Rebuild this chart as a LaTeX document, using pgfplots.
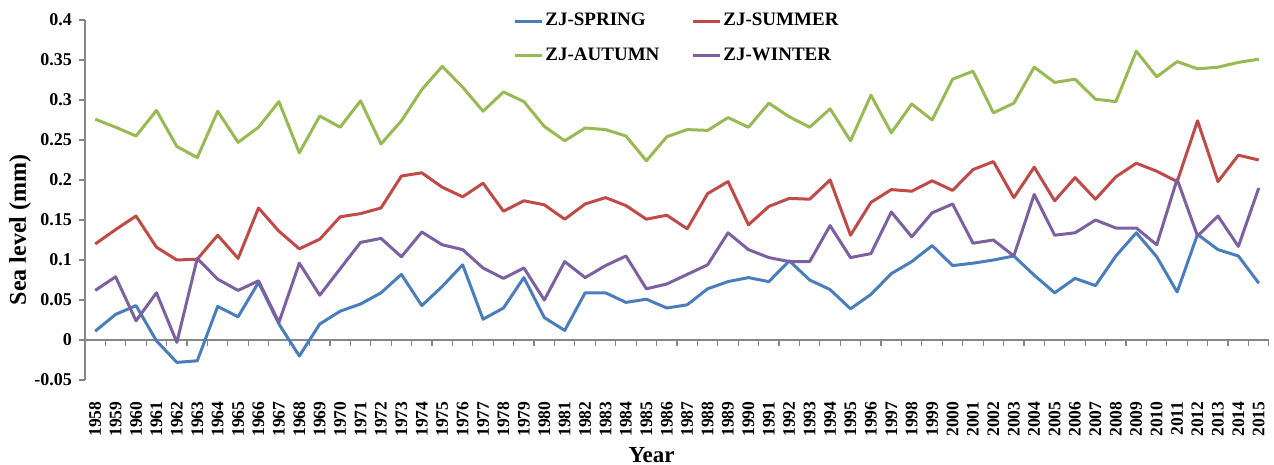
\documentclass[border=0pt]{standalone}
\usepackage{fontspec}
\setmainfont{Liberation Serif}
\usepackage{pgfplots}
\pgfplotsset{compat=1.18}
\usepackage{pgfplotstable}
\definecolor{cspring}{HTML}{4A7EBB}
\definecolor{csummer}{HTML}{BE4B48}
\definecolor{cautumn}{HTML}{98B954}
\definecolor{cwinter}{HTML}{7D60A0}
\definecolor{axisgray}{HTML}{868686}
\pgfplotstableread{
year spring summer autumn winter
1958 0.011 0.120 0.276 0.062
1959 0.032 0.138 0.266 0.079
1960 0.043 0.155 0.255 0.024
1961 -0.001 0.116 0.287 0.059
1962 -0.028 0.100 0.242 -0.003
1963 -0.026 0.101 0.228 0.102
1964 0.042 0.131 0.286 0.076
1965 0.029 0.102 0.247 0.062
1966 0.072 0.165 0.266 0.074
1967 0.020 0.136 0.298 0.022
1968 -0.020 0.114 0.234 0.096
1969 0.020 0.126 0.280 0.056
1970 0.036 0.154 0.266 0.089
1971 0.045 0.158 0.299 0.122
1972 0.059 0.165 0.245 0.127
1973 0.082 0.205 0.274 0.104
1974 0.043 0.209 0.313 0.135
1975 0.067 0.191 0.342 0.119
1976 0.094 0.179 0.316 0.113
1977 0.026 0.196 0.286 0.090
1978 0.040 0.161 0.310 0.077
1979 0.078 0.174 0.298 0.090
1980 0.028 0.169 0.267 0.050
1981 0.012 0.151 0.249 0.098
1982 0.059 0.170 0.265 0.078
1983 0.059 0.178 0.263 0.093
1984 0.047 0.168 0.255 0.105
1985 0.051 0.151 0.224 0.064
1986 0.040 0.156 0.254 0.070
1987 0.044 0.139 0.263 0.082
1988 0.064 0.183 0.262 0.094
1989 0.073 0.198 0.278 0.134
1990 0.078 0.144 0.266 0.113
1991 0.073 0.167 0.296 0.103
1992 0.099 0.177 0.279 0.098
1993 0.075 0.176 0.266 0.098
1994 0.063 0.200 0.289 0.143
1995 0.039 0.131 0.249 0.103
1996 0.057 0.172 0.306 0.108
1997 0.083 0.188 0.259 0.160
1998 0.098 0.186 0.295 0.129
1999 0.118 0.199 0.275 0.159
2000 0.093 0.187 0.326 0.170
2001 0.096 0.213 0.336 0.121
2002 0.100 0.223 0.284 0.125
2003 0.105 0.178 0.296 0.105
2004 0.081 0.216 0.341 0.182
2005 0.059 0.174 0.322 0.131
2006 0.077 0.203 0.326 0.134
2007 0.068 0.176 0.301 0.150
2008 0.105 0.204 0.298 0.140
2009 0.134 0.221 0.361 0.140
2010 0.104 0.211 0.329 0.119
2011 0.060 0.198 0.348 0.201
2012 0.132 0.274 0.339 0.130
2013 0.113 0.198 0.341 0.155
2014 0.105 0.231 0.347 0.117
2015 0.071 0.225 0.351 0.190
}\sea
\begin{document}
\begin{tikzpicture}
\useasboundingbox (-42.5pt,-42.5pt) rectangle (594.5pt,190pt);
% overlay axis: zero line with category tick marks
\begin{axis}[
  at={(0,0)}, anchor=south west,
  width=592pt, height=180pt, scale only axis,
  xmin=1957.5, xmax=2015.5, ymin=-0.05, ymax=0.4,
  axis x line=middle, axis y line=none,
  axis line style={-, draw=axisgray, line width=0.6pt},
  xtick={1958.5,1959.5,...,2015.5}, xticklabels={},
  ytick=\empty,
  tick align=outside, major tick length=3pt,
  x tick style={draw=axisgray, line width=0.6pt},
]
\end{axis}
\begin{axis}[
  at={(0,0)}, anchor=south west,
  width=592pt, height=180pt, scale only axis,
  xmin=1957.5, xmax=2015.5, ymin=-0.05, ymax=0.4,
  axis y line*=left, axis x line*=bottom,
  x axis line style={draw=none},
  y axis line style={-, draw=axisgray, line width=0.6pt},
  ytick={-0.05,0,0.05,0.1,0.15,0.2,0.25,0.3,0.35,0.4},
  yticklabels={-0.05,0,0.05,0.1,0.15,0.2,0.25,0.3,0.35,0.4},
  xtick={1958,1959,...,2015},
  xticklabels={1958,1959,1960,1961,1962,1963,1964,1965,1966,1967,1968,1969,1970,1971,1972,1973,1974,1975,1976,1977,1978,1979,1980,1981,1982,1983,1984,1985,1986,1987,1988,1989,1990,1991,1992,1993,1994,1995,1996,1997,1998,1999,2000,2001,2002,2003,2004,2005,2006,2007,2008,2009,2010,2011,2012,2013,2014,2015},
  tick align=outside, major tick length=3pt,
  x tick style={draw=none},
  y tick style={draw=axisgray, line width=0.6pt},
  xticklabel shift=6.5pt,
  yticklabel style={font=\bfseries\fontsize{9}{10}\selectfont},
  xticklabel style={font=\bfseries\fontsize{8.8}{10}\selectfont, rotate=90, anchor=east, inner sep=1pt},
  every axis y label/.style={at={(axis description cs:0,0.4167)}, xshift=-32.5pt, rotate=90, anchor=center, font=\bfseries\fontsize{12}{14}\selectfont},
  every axis x label/.style={at={(axis description cs:0.4785,0)}, yshift=-37.5pt, anchor=center, font=\bfseries\fontsize{11.5}{13}\selectfont},
  ylabel={Sea level (mm)},
  xlabel={Year},
  legend columns=2,
  legend cell align=left,
  legend style={draw=none, fill=none, at={(axis description cs:0.3632,1)}, anchor=north west, xshift=-4pt, yshift=7.5pt,
    font=\bfseries\fontsize{9.5}{11}\selectfont, row sep=5.5pt,
    nodes={inner xsep=1pt},
    /tikz/every even column/.append style={column sep=15pt}},
  legend image code/.code={\draw[#1] (0pt,0pt) -- (13.5pt,0pt);},
  every axis plot/.append style={line width=1.5pt, line join=round},
]
\addplot[cspring, no markers] table[x=year, y=spring] {\sea};
\addplot[csummer, no markers] table[x=year, y=summer] {\sea};
\addplot[cautumn, no markers] table[x=year, y=autumn] {\sea};
\addplot[cwinter, no markers] table[x=year, y=winter] {\sea};
\legend{ZJ-SPRING, ZJ-SUMMER, ZJ-AUTUMN, ZJ-WINTER}
\end{axis}
\end{tikzpicture}
\end{document}
